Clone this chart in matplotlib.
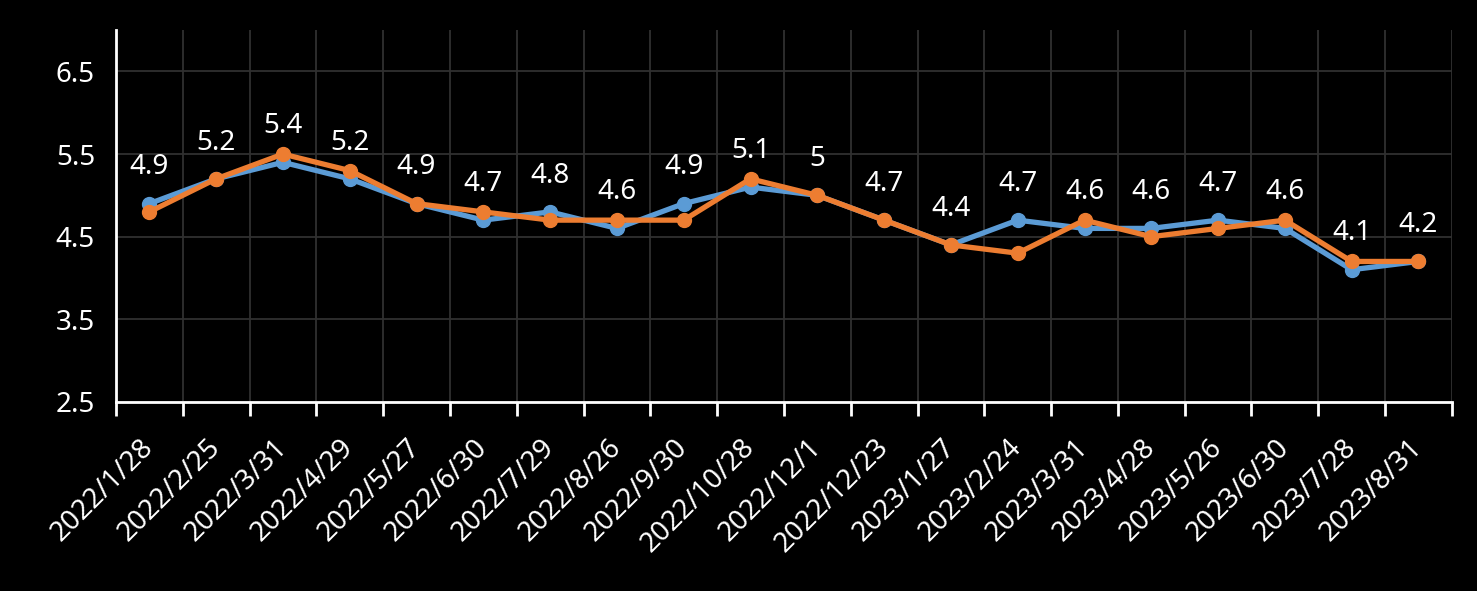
import matplotlib
matplotlib.use("Agg")
import matplotlib.pyplot as plt
import numpy as np

# data
dates = ['2022/1/28', '2022/2/25', '2022/3/31', '2022/4/29', '2022/5/27',
         '2022/6/30', '2022/7/29', '2022/8/26', '2022/9/30', '2022/10/28',
         '2022/12/1', '2022/12/23', '2023/1/27', '2023/2/24', '2023/3/31',
         '2023/4/28', '2023/5/26', '2023/6/30', '2023/7/28', '2023/8/31']
blue_vals = [4.9, 5.2, 5.4, 5.2, 4.9, 4.7, 4.8, 4.6, 4.9, 5.1,
             5.0, 4.7, 4.4, 4.7, 4.6, 4.6, 4.7, 4.6, 4.1, 4.2]
orange_vals = [4.8, 5.2, 5.5, 5.3, 4.9, 4.8, 4.7, 4.7, 4.7, 5.2,
               5.0, 4.7, 4.4, 4.3, 4.7, 4.5, 4.6, 4.7, 4.2, 4.2]
y_ticks = [2.5, 3.5, 4.5, 5.5, 6.5]

plt.rcParams['font.family'] = ['Noto Sans', 'DejaVu Sans']

fig = plt.figure(figsize=(14.77, 5.91), dpi=100, facecolor='black')
ax = fig.add_axes([0.0785, 0.32, 0.9045, 0.629])
ax.set_facecolor('black')

x = np.arange(len(dates))
ax.plot(x, blue_vals, color='#5B9BD5', lw=3.8, marker='o', ms=10, zorder=3)
ax.plot(x, orange_vals, color='#ED7D31', lw=3.8, marker='o', ms=10, zorder=4)

# value labels above the blue series
for i, v in enumerate(blue_vals):
    ax.annotate(f"{v:g}", (i, v), xytext=(0, 16), textcoords='offset points',
                ha='center', va='bottom', color='white', fontsize=20, zorder=5)

ax.set_xlim(-0.5, len(dates) - 0.5)
ax.set_ylim(2.5, 7.0)
ax.set_yticks(y_ticks)
ax.set_yticklabels([f"{t:g}" for t in y_ticks])

# category boundaries carry the ticks and vertical grid
ax.set_xticks(np.arange(len(dates) + 1) - 0.5)
ax.set_xticklabels([])
ax.set_xticks(x, minor=True)
ax.set_xticklabels(dates, minor=True, rotation=45, ha='right',
                   rotation_mode='anchor', va='center')
ax.tick_params(axis='x', which='major', length=10, width=2, color='white', direction='out')
ax.tick_params(axis='x', which='minor', length=0, pad=30, labelsize=20, labelcolor='white')
ax.tick_params(axis='y', length=0, pad=15, labelsize=20, labelcolor='white')

ax.grid(True, which='major', color='#303030', lw=1.3)
ax.set_axisbelow(True)

for side in ['top', 'right']:
    ax.spines[side].set_visible(False)
for side in ['left', 'bottom']:
    ax.spines[side].set_color('white')
    ax.spines[side].set_linewidth(2)

fig.savefig('out.png', dpi=100, facecolor='black')
